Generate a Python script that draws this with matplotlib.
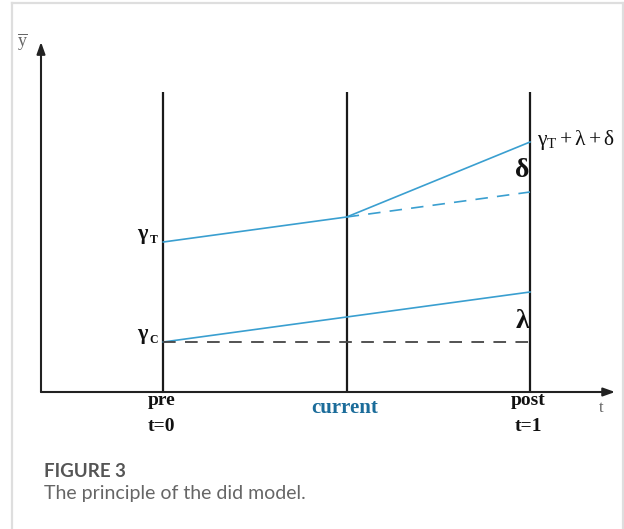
import matplotlib
matplotlib.use("Agg")
import matplotlib.pyplot as plt
from matplotlib.lines import Line2D

# ---- data ----
periods = ["pre", "current", "post"]
period_sub = ["t=0", "", "t=1"]
t_pos = [0.0, 0.5, 1.0]
treated = [3.0, 3.5, 5.0]            # gamma_T, at current, gamma_T + lambda + delta
control = [1.0, 1.5, 2.0]            # gamma_C ... gamma_C + lambda
counterfactual_t = [0.5, 1.0]
counterfactual = [3.5, 4.0]          # gamma_T + lambda
control_base_t = [0.0, 1.0]
control_base = [1.0, 1.0]            # gamma_C level
vline_top = 6.0
yaxis_top = 7.0
xaxis_end = 1.232
yaxis_x = -0.3335

plt.rcParams["mathtext.fontset"] = "custom"
plt.rcParams["mathtext.rm"] = "Liberation Serif"
plt.rcParams["mathtext.it"] = "Liberation Serif:italic"
plt.rcParams["mathtext.bf"] = "Liberation Serif:bold"

BLUE = "#3a9fd0"
W, H = 624, 529
fig = plt.figure(figsize=(W / 100, H / 100), dpi=100)
ax = fig.add_axes([0, 0, 1, 1])
ax.set_xlim(-0.4453, 1.2563)
ax.set_ylim(-2.74, 7.84)
ax.axis("off")

# frame border (light gray)
for xs, ys in [([12 / W, 12 / W], [0, 1 - 3 / H]),
               ([12 / W, 623 / W], [1 - 3 / H, 1 - 3 / H]),
               ([623 / W, 623 / W], [0, 1 - 3 / H])]:
    fig.add_artist(Line2D(xs, ys, color="#dedede", lw=1.6, transform=fig.transFigure))

# axes with arrows
arrow = dict(arrowstyle="-|>,head_length=0.7,head_width=0.25",
             color="#222222", lw=1.5, shrinkA=0, shrinkB=0)
ax.annotate("", xy=(yaxis_x, yaxis_top), xytext=(yaxis_x, 0), arrowprops=arrow)
ax.annotate("", xy=(xaxis_end, 0), xytext=(yaxis_x, 0), arrowprops=arrow)

# vertical period lines
for t in t_pos:
    ax.plot([t, t], [0, vline_top], color="#1a1a1a", lw=1.6, solid_capstyle="butt")

# treated and control lines
ax.plot(t_pos, treated, color=BLUE, lw=1.2)
ax.plot(t_pos, control, color=BLUE, lw=1.2)
ax.plot(counterfactual_t, counterfactual, color=BLUE, lw=1.2, dashes=(7.5, 5.5))
ax.plot(control_base_t, control_base, color="#444444", lw=1.3, dashes=(7.0, 5.2))

serif = "Liberation Serif"

# gamma labels at the pre line
for y, sub in [(treated[0], "T"), (control[0], "C")]:
    ax.annotate(r"$\mathbf{\gamma}$", xy=(t_pos[0], y), xytext=(-10.0, 2.0),
                textcoords="offset points", ha="right", va="baseline",
                fontsize=16, color="#111111")
    ax.annotate(sub, xy=(t_pos[0], y), xytext=(-4.2, -1.0),
                textcoords="offset points", ha="right", va="baseline",
                fontsize=8.5, family=serif, weight="bold", color="#111111")

ax.annotate(r"$\mathrm{\gamma_{T}+\lambda+\delta}$", xy=(t_pos[2], treated[2]),
            xytext=(5, -2.5), textcoords="offset points", ha="left", va="baseline",
            fontsize=15.5, color="#111111")
ax.annotate("δ", xy=(t_pos[2], counterfactual[1] + 0.3), xytext=(-0.6, 0),
            textcoords="offset points", ha="right", va="baseline", fontsize=20,
            family=serif, weight="bold", color="#111111")
ax.annotate("λ", xy=(t_pos[2], control_base[1] + 0.28), xytext=(-0.6, 0),
            textcoords="offset points", ha="right", va="baseline", fontsize=20,
            family=serif, weight="bold", color="#111111")

# x labels
for t, p, s in zip(t_pos, periods, period_sub):
    if p == "current":
        ax.text(t - 0.005, -0.42, p, ha="center", va="baseline", fontsize=15,
                family=serif, weight="bold", color="#1b6c9a")
    else:
        ax.text(t - 0.005, -0.26, p, ha="center", va="baseline", fontsize=14,
                family=serif, weight="bold", color="#111111")
        ax.text(t - 0.005, -0.78, s, ha="center", va="baseline", fontsize=14,
                family=serif, weight="bold", color="#111111")
ax.text(1.195, -0.40, "t", ha="center", va="baseline", fontsize=12, family=serif,
        color="#666666")
ax.text(-0.385, 7.0, r"$\overline{\mathrm{y}}$", ha="center", va="center", fontsize=13,
        color="#666666")

# caption
fig.text(44 / W, 1 - 477 / H, "FIGURE 3", ha="left", va="baseline", fontsize=13.5,
         family="Lato", weight="bold", color="#555555")
fig.text(44 / W, 1 - 499 / H, "The principle of the did model.", ha="left",
         va="baseline", fontsize=14, family="Lato", color="#666666")

fig.savefig("out.png", dpi=100)
